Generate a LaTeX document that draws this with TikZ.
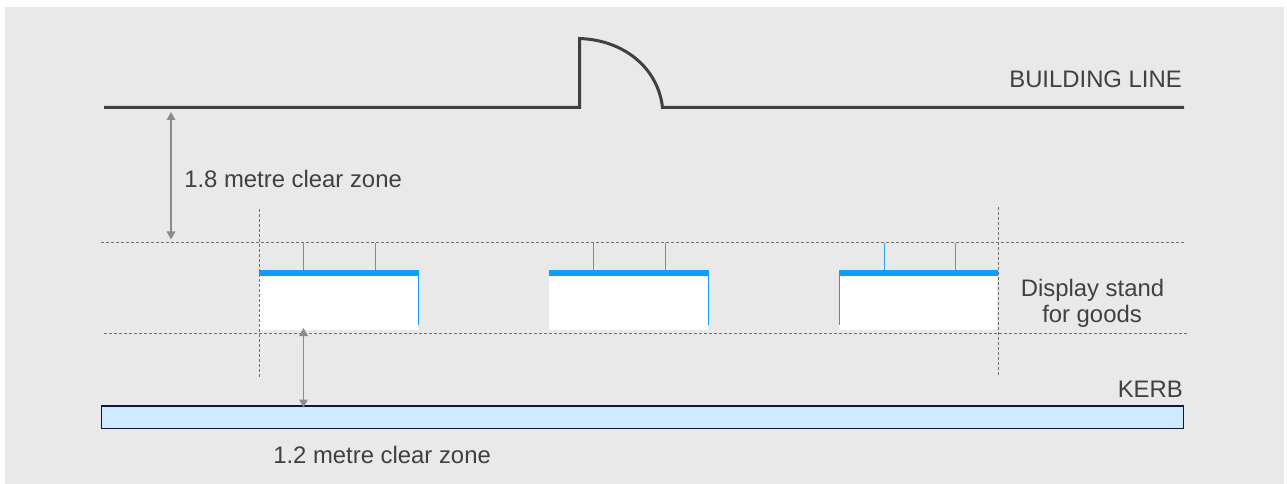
\documentclass[tikz,border=0pt]{standalone}
\usepackage{fontspec}
\setmainfont{Liberation Sans}
\usetikzlibrary{arrows.meta}
\definecolor{panel}{HTML}{E9E9E9}
\definecolor{ink}{HTML}{404040}
\definecolor{standblue}{HTML}{0F9EFF}
\definecolor{tickblue}{HTML}{2FA4F2}
\definecolor{kerbfill}{HTML}{CFE9FF}
\definecolor{kerbline}{HTML}{14143C}
\definecolor{arrowgrey}{HTML}{8C8C8C}
\tikzset{
  x=0.75pt,y=-0.75pt,
  wall/.style={draw=ink,line width=2.25pt,line join=miter},
  guide/.style={draw=ink!75,line width=0.75pt,dash pattern=on 2.25pt off 1.5pt},
  tick/.style={fill=tickblue},
  side/.style={draw=standblue,line width=0.9pt},
  dim/.style={draw=arrowgrey,line width=0.9pt,{Triangle[length=6pt,width=6.5pt]}-{Triangle[length=6pt,width=6.5pt]}},
  lab/.style={text=ink,font=\fontsize{17.9pt}{21pt}\selectfont,inner sep=0pt,align=center}
}
\begin{document}
\begin{tikzpicture}
\useasboundingbox (0,0) rectangle (1287,484);
\fill[white] (0,0) rectangle (1287,484);
\fill[panel] (5,7) rectangle (1284,484);
% stands
\foreach \n/\a/\b in {1/259/419,2/549/709,3/839/998}{
  \fill[white] (\a,270) rectangle (\b-1,329.5);
  \fill[standblue] (\a,270) rectangle (\b,276);
}
\draw[side] (418.5,275) -- (418.5,325);
\draw[side] (708.5,275) -- (708.5,325);
\draw[side] (839.5,275) -- (839.5,325);
% guides
\coordinate (gtl) at (101,242.5); \coordinate (gtr) at (1184,242.5);
\coordinate (gbl) at (104,333); \coordinate (gbr) at (1187,333);
\coordinate (vl1) at (259.5,209); \coordinate (vl2) at (259.5,379);
\coordinate (vr1) at (998,207); \coordinate (vr2) at (998,377);
\draw[guide] (gtl) -- (gtr);
\draw[guide] (gbl) -- (gbr);
\draw[guide] (vl1) -- (vl2);
\draw[guide] (vr1) -- (vr2);
\foreach \x in {303,375,593,665,884,955}{
  \path[tick] (\x,243) rectangle (\x+1.1,270);
}
% building line
\coordinate (bl) at (104,107.5); \coordinate (d1) at (579.5,107.5);
\coordinate (d2) at (579.5,38.5); \coordinate (d3) at (662.5,107.5);
\coordinate (br) at (1184,107.5);
\draw[wall] (bl) -- (d1) -- (d2) .. controls (624,40) and (658,68) .. (d3) -- (br);
% kerb
\node[draw=kerbline,fill=kerbfill,line width=1.1pt,outer sep=0pt,minimum width=1082*0.75pt,minimum height=22.5*0.75pt,inner sep=0pt,anchor=north west] (kerb) at (101.5,406) {};
% dims
\coordinate (a1) at (171,112); \coordinate (a2) at (171,239.5);
\coordinate (b1) at (303.5,328); \coordinate (b2) at (303.5,407.5);
\draw[dim] (a1) -- (a2);
\draw[dim] (b1) -- (b2);
% labels
\node[lab,anchor=base east] (building) at (1182,87.5) {BUILDING LINE};
\node[lab,anchor=base west] (zone1) at (184,187.5) {1.8 metre clear zone};
\node[lab,anchor=base west] (zone2) at (273,463) {1.2 metre clear zone};
\node[lab,anchor=base east] (kerblab) at (1183,397.5) {KERB};
\node[lab,anchor=base] (stand1) at (1092.5,296.5) {Display stand};
\node[lab,anchor=base] (stand2) at (1092,322) {for goods};
\end{tikzpicture}
\end{document}
